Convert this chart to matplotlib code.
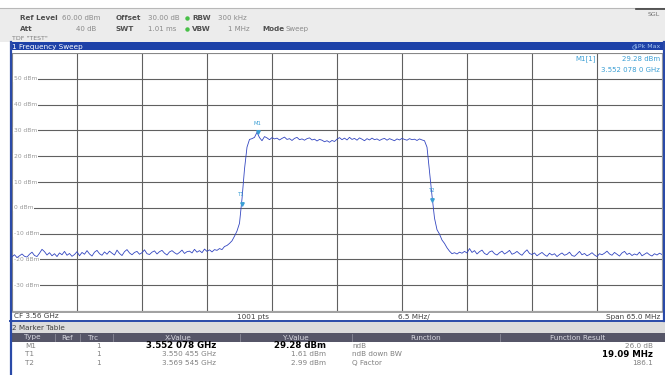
import numpy as np
import matplotlib
matplotlib.use('Agg')
from matplotlib import pyplot as plt
from matplotlib.patches import Rectangle

# sweep settings (GHz)
f_start = 3.5275
f_stop = 3.5925

# trace 1 (dBm), read every 0.25 MHz across the span
left_floor = [-19.0, -18.2, -19.3, -18.6, -17.9, -18.8, -19.1, -18.0, -17.2, -18.5,
              -18.9, -17.6, -16.1, -17.0, -18.3, -17.4, -18.6, -17.8, -18.9, -17.5,
              -18.2, -16.9, -18.4, -17.7, -18.8, -18.1, -17.0, -18.6, -17.3, -18.0,
              -16.6, -17.9, -18.7, -17.2, -16.5, -17.8, -18.4, -17.1, -18.0, -16.8,
              -17.6, -18.3, -16.4, -17.7, -18.5, -17.0, -16.2, -17.5, -18.2, -17.3,
              -16.9, -18.0, -17.4, -16.3, -17.8, -18.1, -17.2, -16.7, -17.9, -17.0,
              -16.5, -17.6, -18.3, -17.1, -16.6, -17.4, -18.0, -17.3, -16.4, -17.7,
              -17.0, -16.8, -17.5, -16.1, -17.2, -16.6, -17.4, -16.0, -16.9, -16.3,
              -17.1, -16.2]
rising = [-16.5, -15.8, -16.2, -15.0, -14.6, -13.8, -12.8, -11.0, -9.0, -6.0,
          3.5, 15.0, 23.5, 26.5, 26.8, 27.3, 29.28, 27.2]
plateau = [26.0, 27.6, 27.1, 26.4, 27.2, 26.7, 27.0, 26.3, 26.9, 27.4,
           26.5, 26.8, 26.1, 26.9, 27.3, 26.4, 26.7, 26.2, 26.8, 27.1,
           26.3, 26.6, 25.9, 26.5, 26.2, 25.6, 26.0, 25.4, 26.1, 25.7,
           26.6, 27.2, 26.4, 27.0, 26.3, 27.3, 26.5, 26.9, 26.2, 27.1,
           26.6, 26.0, 26.8, 26.3, 27.0, 26.4, 26.7, 26.1, 26.6, 26.9,
           26.2, 26.8, 26.4, 26.0, 26.7, 26.3, 26.9, 26.5, 26.2, 26.8,
           26.4, 26.6, 26.1, 26.7, 26.3]
falling = [26.0, 23.5, 14.0, 4.7, -4.0, -8.5, -10.2, -12.5, -13.8, -15.5, -16.8]
right_floor = [-17.8, -17.4, -17.9, -17.2, -17.6, -16.9, -17.5, -15.8, -17.3, -16.6,
               -17.9, -17.0, -16.4, -17.7, -18.2, -17.1, -16.7, -17.8, -18.3, -17.4,
               -16.8, -17.9, -17.3, -16.5, -18.0, -17.6, -16.9, -17.8, -18.4, -17.2,
               -16.3, -17.7, -18.1, -17.5, -18.6, -17.9, -17.3, -18.2, -18.8, -17.6,
               -18.3, -17.8, -18.9, -18.1, -17.5, -18.4, -18.0, -17.2, -18.5, -18.8,
               -17.9, -16.9, -18.2, -17.7, -18.6, -18.1, -17.4, -18.3, -18.9, -17.8,
               -18.2, -17.6, -16.8, -17.9, -18.4, -17.3, -18.0, -18.7, -17.5, -16.9,
               -18.1, -17.6, -18.5, -17.9, -18.3, -17.2, -18.6, -18.0, -17.4, -18.2,
               -18.7, -17.8, -18.3, -17.6, -18.1]
level = np.array(left_floor + rising + plateau + falling + right_floor)
freq = np.linspace(f_start, f_stop, len(level))

# markers
mk_names = ['M1', 'T1', 'T2']
mk_freq = [3.552078, 3.550455, 3.569545]
mk_level = [29.28, 1.61, 2.99]
mk_xtext = ['3.552 078 GHz', '3.550 455 GHz', '3.569 545 GHz']
mk_ytext = ['29.28 dBm', '1.61 dBm', '2.99 dBm']
fn_names = ['ndB', 'ndB down BW', 'Q Factor']
fn_results = ['26.0 dB', '19.09 MHz', '186.1']

y_ticks = [50, 40, 30, 20, 10, 0, -10, -20, -30]

W, H = 665, 375
fig = plt.figure(figsize=(W / 100, H / 100), dpi=100)
plt.rcParams['font.family'] = ['DejaVu Sans']


def box(x, y, w, h, color, **kw):
    fig.patches.append(Rectangle((x / W, 1 - (y + h) / H), w / W, h / H,
                                 transform=fig.transFigure, facecolor=color,
                                 edgecolor='none', zorder=0, **kw))


def txt(x, y, s, **kw):
    kw.setdefault('va', 'center')
    kw.setdefault('fontsize', 5.2)
    fig.text(x / W, 1 - y / H, s, **kw)


def hline(x0, x1, y, color, lw=0.8):
    fig.add_artist(plt.Line2D([x0 / W, x1 / W], [1 - y / H, 1 - y / H],
                              transform=fig.transFigure, color=color, lw=lw, zorder=6))


def vline(x, y0, y1, color, lw=0.8):
    fig.add_artist(plt.Line2D([x / W, x / W], [1 - y0 / H, 1 - y1 / H],
                              transform=fig.transFigure, color=color, lw=lw, zorder=6))


# header area
box(0, 8, W, 34, '#ececec')
hline(0, W, 8, '#b8b8b8', 0.8)
lab = dict(color='#505050', fontweight='bold', fontsize=5.2)
val = dict(color='#8a8a8a', fontsize=5.0)
txt(20, 18, 'Ref Level', **lab)
txt(62, 18, '60.00 dBm', **val)
txt(116, 18, 'Offset', **lab)
txt(148, 18, '30.00 dB', **val)
txt(192, 18, 'RBW', **lab)
txt(218, 18, '300 kHz', **val)
txt(20, 29, 'Att', **lab)
txt(96, 29, '40 dB', ha='right', **val)
txt(116, 29, 'SWT', **lab)
txt(148, 29, '1.01 ms', **val)
txt(192, 29, 'VBW', **lab)
txt(228, 29, '1 MHz', **val)
txt(262, 29, 'Mode', **lab)
txt(285, 29, 'Sweep', **val)
for yy in (18, 29):
    fig.add_artist(plt.Line2D([187 / W], [1 - yy / H], transform=fig.transFigure,
                              marker='o', ms=2.2, color='#48c048', lw=0))
txt(12, 38, 'TDF "TEST"', color='#808080', fontsize=4.5)
txt(660, 15, 'SGL', ha='right', color='#707070', fontsize=4.5)
hline(636, 665, 9, '#404040', 1.2)

# window title bar
box(10, 42, 655, 8, '#1d41a8')
txt(12, 46.5, '1 Frequency Sweep', color='white', fontsize=5.2)
txt(660, 46.5, '1Pk Max', ha='right', color='#a8c8f0', fontsize=4.5)
fig.add_artist(plt.Line2D([634 / W], [1 - 46.5 / H], transform=fig.transFigure,
                          marker='o', ms=2.6, mfc='none', mec='#8fb8f0', mew=0.5, lw=0))

# white panel with blue frame
box(10, 50, 655, 271, 'white')
vline(10.5, 42, 321, '#2a4aa8', 1.6)
vline(663.5, 42, 321, '#2a4aa8', 1.6)
hline(10, 665, 321, '#2a4aa8', 1.4)

ax = fig.add_axes([12 / W, 1 - 311 / H, 650 / W, 258 / H])
ax.set_zorder(3)
ax.set_facecolor('white')
ax.set_xlim(f_start, f_stop)
ax.set_ylim(-40, 60)
ax.set_xticks(np.linspace(f_start, f_stop, 11))
ax.set_yticks(np.arange(-40, 61, 10))
ax.grid(color='#606060', lw=0.8)
ax.tick_params(length=0, labelleft=False, labelbottom=False)
for sp in ax.spines.values():
    sp.set_color('#909090')
    sp.set_linewidth(0.6)
for v in y_ticks:
    ax.text(f_start + 0.0002, v, f'{v} dBm', fontsize=4.3, color='#9a9a9a',
            va='center', ha='left', zorder=3,
            bbox=dict(facecolor='white', edgecolor='none', pad=0.6))
ax.plot(freq, level, color='#3346c0', lw=0.6, zorder=4)
cyan = '#3b9fd4'
for name, f, lv in zip(mk_names, mk_freq, mk_level):
    ax.plot(f, lv, marker='v', ms=2.5, color=cyan, zorder=5)
    ax.text(f, lv + 2.6, name, fontsize=3.8, color=cyan, ha='center', va='bottom', zorder=5)

# marker info in the corner
for s, x, y, ha in [('M1[1]', 575, 59, 'left'), ('29.28 dBm', 660, 59, 'right'),
                    ('3.552 078 0 GHz', 660, 70, 'right')]:
    ax.text(x / W, 1 - y / H, s, transform=fig.transFigure, ha=ha, va='center',
            color=cyan, fontsize=5, zorder=6)

# frequency row
hline(12, 662, 312, '#909090', 0.6)
fx = dict(color='#404040', fontsize=5.2)
txt(14, 316.5, 'CF 3.56 GHz', **fx)
txt(237, 316.5, '1001 pts', **fx)
txt(398, 316.5, '6.5 MHz/', **fx)
txt(660, 316.5, 'Span 65.0 MHz', ha='right', **fx)

# marker table
box(10, 322, 655, 11, '#dcdcdc')
txt(12, 328, '2 Marker Table', color='#404040', fontsize=5.2)
box(10, 333, 655, 9, '#565668')
box(10, 342, 655, 33, 'white')
vline(10.5, 322, 375, '#2a4aa8', 1.6)
heads = [('Type', 32), ('Ref', 67), ('Trc', 93), ('X-Value', 178),
         ('Y-Value', 296), ('Function', 426), ('Function Result', 578)]
for s, x in heads:
    txt(x, 337.5, s, ha='center', color='#d8d8e0', fontsize=5.2)
for x in (55, 80, 113, 240, 352, 500):
    vline(x, 334, 341, '#8a8a98', 0.6)
rows_y = [346, 354.5, 363]
gray = '#808080'
for i, (name, xs, ys, fn, res) in enumerate(zip(mk_names, mk_xtext, mk_ytext, fn_names, fn_results)):
    y = rows_y[i]
    txt(25, y, name, color=gray)
    txt(96, y, '1', color=gray)
    if i == 0:
        txt(216, y, xs, ha='right', color='black', fontweight='bold', fontsize=6.2)
        txt(326, y, ys, ha='right', color='black', fontweight='bold', fontsize=6.2)
    else:
        txt(216, y, xs, ha='right', color=gray)
        txt(326, y, ys, ha='right', color=gray)
    txt(352, y, fn, color=gray)
    if i == 1:
        txt(653, y, res, ha='right', color='black', fontweight='bold', fontsize=6.2)
    else:
        txt(653, y, res, ha='right', color=gray)

plt.savefig('out.png', dpi=100)
